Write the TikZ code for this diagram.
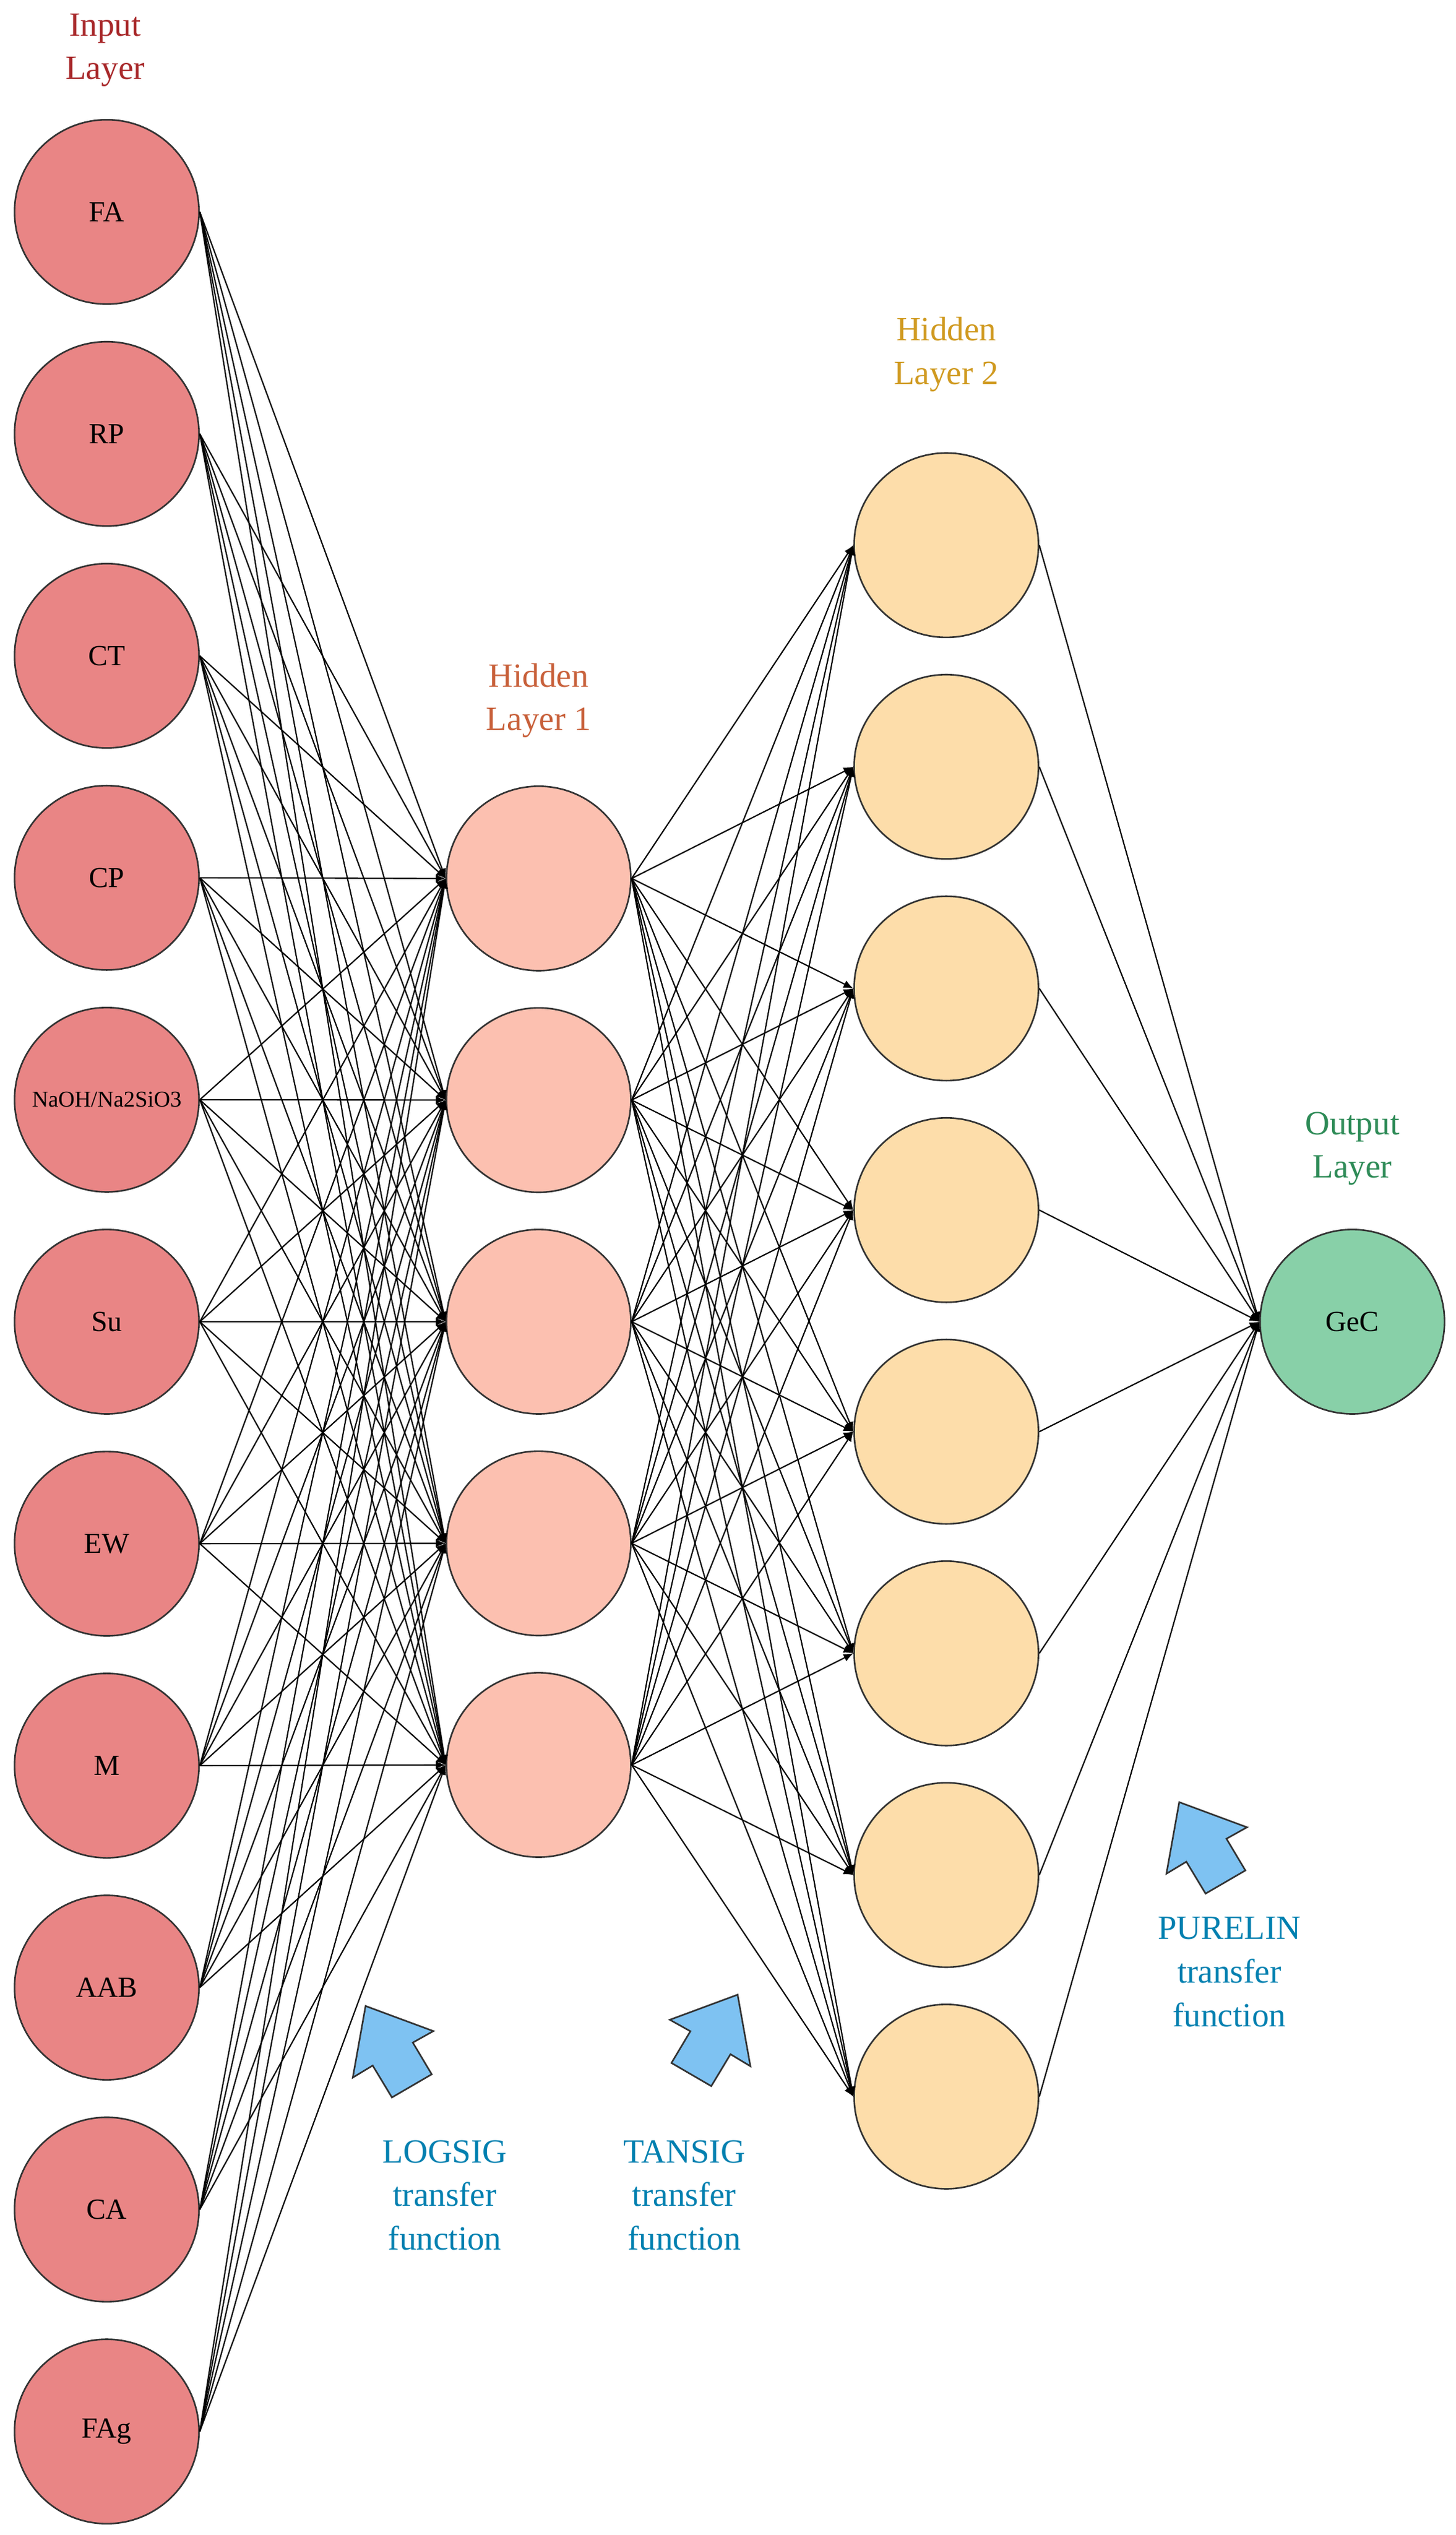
\documentclass[tikz,border=0pt]{standalone}
\usepackage{fontspec}
\setmainfont{Liberation Serif}
\usetikzlibrary{arrows.meta}
\definecolor{cin}{HTML}{E98585}
\definecolor{ch1}{HTML}{FCC0B0}
\definecolor{ch2}{HTML}{FDDDAA}
\definecolor{cout}{HTML}{88D0A8}
\definecolor{tin}{HTML}{A8282A}
\definecolor{th1}{HTML}{C8603A}
\definecolor{th2}{HTML}{D09A20}
\definecolor{tout}{HTML}{2E8B57}
\definecolor{tblue}{HTML}{0080B0}
\definecolor{abl}{HTML}{7EC2F2}
\begin{document}
\begin{tikzpicture}[x=1pt,y=-1pt,
  neuron/.style={circle,draw=black!80,line width=1pt,minimum size=114pt,inner sep=0pt,font=\fontsize{18}{20}\selectfont},
  title/.style={align=center,font=\fontsize{21}{27}\selectfont},
  note/.style={align=center,text=tblue,font=\fontsize{21}{27}\selectfont},
  conn/.style={line width=0.8pt,-{Latex[length=6pt,width=5pt]}},
  bigarrow/.style={fill=abl,draw=black!80,line width=1pt,line join=miter}]
\useasboundingbox (0,0) rectangle (900,1567);
\fill[white] (0,0) rectangle (900,1567);
% input layer
\foreach \n/\t [count=\i from 0] in {FA/FA,RP/RP,CT/CT,CP/CP,NA/{\fontsize{14}{16}\selectfont NaOH/Na2SiO3},Su/Su,EW/EW,M/M,AAB/AAB,CA/CA,FAg/FAg}
  \node[neuron,fill=cin] (i\i) at (66,{131+137.2*\i}) {\t};
\foreach \i in {0,...,4}
  \node[neuron,fill=ch1] (h\i) at (333,{543+137*\i}) {};
\foreach \i in {0,...,7}
  \node[neuron,fill=ch2] (k\i) at (585,{337+137*\i}) {};
\node[neuron,fill=cout] (o) at (836,817) {GeC};
% connections
\foreach \i in {0,...,10}
  \foreach \j in {0,...,4}
    \draw[conn] (i\i.east) -- (h\j.west);
\foreach \i in {0,...,4}
  \foreach \j in {0,...,7}
    \draw[conn] (h\i.east) -- (k\j.west);
\foreach \j in {0,...,7}
  \draw[conn] (k\j.east) -- (o.west);
% titles
\node[title,text=tin] (tI) at (65,31) {Input\\Layer};
\node[title,text=th1] (tH1) at (333,433) {Hidden\\Layer 1};
\node[title,text=th2] (tH2) at (585,219) {Hidden\\Layer 2};
\node[title,text=tout] (tO) at (836,710) {Output\\Layer};
% big arrows
\draw[bigarrow] (226,1240) -- ++(41.9,15.5) -- ++(-12.7,7.1) -- ++(11.7,19.6) -- ++(-24.6,14.3) -- ++(-11.9,-19.7) -- ++(-12.3,7.4) -- cycle;
\draw[bigarrow] (456,1233) -- ++(-41.9,15.5) -- ++(12.7,7.1) -- ++(-11.7,19.6) -- ++(24.6,14.3) -- ++(11.9,-19.7) -- ++(12.3,7.4) -- cycle;
\draw[bigarrow] (729,1114) -- ++(41.9,15.5) -- ++(-12.7,7.1) -- ++(11.7,19.6) -- ++(-24.6,14.3) -- ++(-11.9,-19.7) -- ++(-12.3,7.4) -- cycle;
\node[note] (nL) at (275,1357) {LOGSIG\\transfer\\function};
\node[note] (nT) at (423,1357) {TANSIG\\transfer\\function};
\node[note] (nP) at (760,1219) {PURELIN\\transfer\\function};
\end{tikzpicture}
\end{document}
